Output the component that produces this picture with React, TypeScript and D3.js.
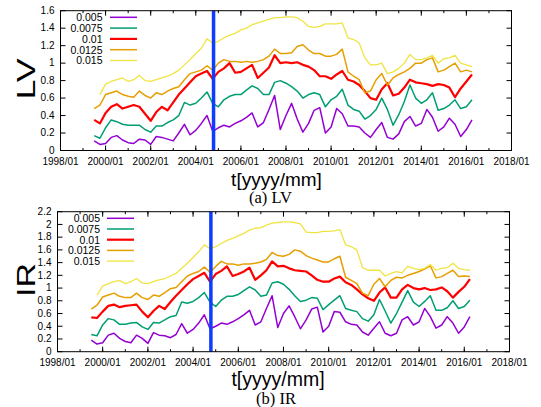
import * as d3 from "d3";
import React from "react";

// quarterly sampling grid
const parseMonth = d3.timeParse("%Y/%m");
const dates = d3.timeMonth.every(3)!.range(parseMonth("1999/07")!, parseMonth("2016/05")!);
const eventDate = d3.timeParse("%Y/%m/%d")("2004/10/15")!;

const seriesNames = ["0.005", "0.0075", "0.01", "0.0125", "0.015"];
const seriesColors = ["#9400d3", "#009e73", "#ff0000", "#e69f00", "#f0e442"];
const seriesWidths = [1.5, 1.5, 2.2, 1.5, 1.3];

const xTickYears = ["1998/01", "2000/01", "2002/01", "2004/01", "2006/01", "2008/01", "2010/01", "2012/01", "2014/01", "2016/01", "2018/01"];
const lvTicks = [0, 0.2, 0.4, 0.6, 0.8, 1, 1.2, 1.4, 1.6];
const irTicks = [0, 0.2, 0.4, 0.6, 0.8, 1, 1.2, 1.4, 1.6, 1.8, 2, 2.2];

// (a) LV
const lv005 = [0.11, 0.07, 0.08, 0.15, 0.17, 0.12, 0.09, 0.08, 0.13, 0.12, 0.07, 0.16, 0.15, 0.13, 0.11, 0.2, 0.3, 0.18, 0.23, 0.31, 0.4, 0.22, 0.26, 0.29, 0.27, 0.31, 0.34, 0.38, 0.43, 0.27, 0.32, 0.47, 0.63, 0.24, 0.4, 0.54, 0.36, 0.21, 0.31, 0.46, 0.49, 0.2, 0.27, 0.48, 0.42, 0.28, 0.28, 0.27, 0.2, 0.15, 0.24, 0.32, 0.15, 0.13, 0.19, 0.33, 0.39, 0.28, 0.31, 0.47, 0.38, 0.22, 0.27, 0.37, 0.3, 0.16, 0.24, 0.35];
const lv0075 = [0.17, 0.14, 0.26, 0.35, 0.33, 0.3, 0.29, 0.29, 0.29, 0.24, 0.21, 0.28, 0.28, 0.32, 0.35, 0.4, 0.55, 0.52, 0.54, 0.6, 0.67, 0.54, 0.5, 0.58, 0.62, 0.64, 0.64, 0.69, 0.74, 0.71, 0.64, 0.64, 0.78, 0.8, 0.77, 0.73, 0.68, 0.6, 0.64, 0.66, 0.64, 0.5, 0.58, 0.62, 0.7, 0.52, 0.47, 0.45, 0.36, 0.4, 0.47, 0.6, 0.47, 0.29, 0.41, 0.56, 0.75, 0.6, 0.54, 0.58, 0.66, 0.46, 0.48, 0.52, 0.58, 0.48, 0.5, 0.58];
const lv01 = [0.35, 0.31, 0.43, 0.5, 0.53, 0.48, 0.5, 0.52, 0.5, 0.42, 0.34, 0.44, 0.5, 0.46, 0.55, 0.64, 0.71, 0.78, 0.85, 0.88, 0.91, 0.82, 0.9, 0.94, 1.0, 0.89, 0.9, 0.94, 0.98, 0.83, 0.89, 0.95, 1.09, 1.0, 1.01, 1.0, 1.01, 0.98, 0.96, 0.92, 0.85, 0.85, 0.82, 0.87, 0.91, 0.81, 0.79, 0.75, 0.68, 0.6, 0.58, 0.7, 0.77, 0.63, 0.65, 0.72, 0.81, 0.78, 0.77, 0.76, 0.74, 0.76, 0.75, 0.72, 0.61, 0.71, 0.79, 0.87];
const lv0125 = [0.48, 0.52, 0.64, 0.66, 0.68, 0.64, 0.62, 0.61, 0.68, 0.63, 0.6, 0.66, 0.64, 0.68, 0.71, 0.73, 0.81, 0.88, 0.9, 0.92, 0.97, 0.92, 1.0, 1.04, 1.02, 1.02, 1.01, 1.02, 1.01, 1.02, 1.04, 1.08, 1.16, 1.11, 1.11, 1.12, 1.19, 1.21, 1.15, 1.11, 1.11, 1.08, 1.08, 1.1, 1.16, 0.9, 0.85, 0.81, 0.66, 0.68, 0.81, 0.88, 0.75, 0.83, 0.87, 0.9, 0.94, 1.0, 1.0, 1.04, 1.06, 0.9, 0.92, 0.96, 1.0, 0.9, 0.92, 0.9];
const lv015 = [null, 0.64, 0.76, 0.79, 0.81, 0.83, 0.79, 0.81, 0.86, 0.8, 0.79, 0.81, 0.83, 0.85, 0.88, 0.92, 0.98, 1.04, 1.11, 1.17, 1.28, 1.23, 1.25, 1.29, 1.32, 1.34, 1.38, 1.4, 1.44, 1.46, 1.48, 1.5, 1.52, 1.52, 1.53, 1.53, 1.52, 1.48, 1.42, 1.41, 1.42, 1.45, 1.45, 1.45, 1.46, 1.29, 1.27, 1.23, 1.06, 0.98, 0.98, 1.0, 0.88, 0.9, 0.94, 1.0, 1.1, 1.04, 1.04, 1.06, 1.09, 1.0, 1.05, 1.06, 1.09, 1.0, 0.98, 0.96];

// (b) IR
const ir005 = [0.18, 0.12, 0.14, 0.26, 0.29, 0.21, 0.16, 0.14, 0.26, 0.21, 0.13, 0.3, 0.26, 0.25, 0.22, 0.27, 0.44, 0.29, 0.35, 0.45, 0.58, 0.36, 0.4, 0.45, 0.43, 0.47, 0.52, 0.58, 0.65, 0.42, 0.47, 0.68, 0.88, 0.38, 0.6, 0.72, 0.55, 0.36, 0.5, 0.67, 0.7, 0.31, 0.4, 0.63, 0.62, 0.47, 0.43, 0.42, 0.31, 0.26, 0.37, 0.47, 0.29, 0.25, 0.29, 0.5, 0.55, 0.42, 0.47, 0.68, 0.55, 0.37, 0.42, 0.55, 0.45, 0.29, 0.39, 0.55];
const ir0075 = [0.27, 0.25, 0.42, 0.52, 0.5, 0.43, 0.43, 0.45, 0.46, 0.39, 0.35, 0.46, 0.45, 0.5, 0.55, 0.57, 0.78, 0.76, 0.79, 0.85, 0.93, 0.78, 0.71, 0.81, 0.87, 0.87, 0.9, 0.96, 1.02, 0.97, 0.87, 0.89, 1.08, 1.1, 1.06, 0.98, 0.88, 0.79, 0.81, 0.85, 0.84, 0.66, 0.74, 0.81, 0.88, 0.68, 0.65, 0.63, 0.52, 0.48, 0.58, 0.82, 0.64, 0.45, 0.6, 0.78, 0.96, 0.78, 0.71, 0.79, 0.88, 0.65, 0.65, 0.69, 0.8, 0.68, 0.71, 0.81];
const ir01 = [0.54, 0.53, 0.63, 0.72, 0.74, 0.7, 0.72, 0.73, 0.74, 0.63, 0.54, 0.64, 0.72, 0.67, 0.78, 0.88, 0.97, 1.06, 1.14, 1.19, 1.24, 1.1, 1.22, 1.27, 1.34, 1.19, 1.22, 1.26, 1.32, 1.13, 1.2, 1.28, 1.42, 1.34, 1.35, 1.31, 1.28, 1.27, 1.26, 1.2, 1.13, 1.1, 1.1, 1.15, 1.18, 1.09, 1.05, 0.98, 0.9, 0.84, 0.8, 0.93, 1.01, 0.85, 0.85, 0.98, 1.05, 1.0, 0.98, 1.0, 0.97, 0.98, 1.01, 0.95, 0.85, 0.94, 1.02, 1.14];
const ir0125 = [0.67, 0.73, 0.86, 0.89, 0.92, 0.87, 0.85, 0.85, 0.92, 0.85, 0.82, 0.89, 0.87, 0.93, 0.99, 1.01, 1.1, 1.19, 1.23, 1.26, 1.33, 1.25, 1.34, 1.42, 1.38, 1.38, 1.36, 1.38, 1.38, 1.39, 1.41, 1.45, 1.56, 1.51, 1.5, 1.53, 1.6, 1.58, 1.51, 1.47, 1.44, 1.41, 1.41, 1.46, 1.5, 1.17, 1.12, 1.07, 0.92, 0.88, 1.06, 1.15, 1.02, 1.12, 1.17, 1.16, 1.2, 1.23, 1.26, 1.3, 1.35, 1.16, 1.18, 1.23, 1.28, 1.18, 1.19, 1.18];
const ir015 = [null, 0.89, 1.03, 1.07, 1.1, 1.12, 1.07, 1.1, 1.15, 1.08, 1.07, 1.1, 1.13, 1.15, 1.19, 1.23, 1.31, 1.39, 1.48, 1.57, 1.68, 1.62, 1.65, 1.7, 1.75, 1.78, 1.82, 1.86, 1.91, 1.94, 1.95, 1.99, 2.02, 2.03, 2.04, 2.04, 2.03, 2.01, 1.88, 1.87, 1.87, 1.89, 1.89, 1.9, 1.92, 1.68, 1.65, 1.6, 1.32, 1.28, 1.28, 1.28, 1.19, 1.23, 1.26, 1.24, 1.34, 1.31, 1.29, 1.31, 1.37, 1.28, 1.31, 1.32, 1.39, 1.31, 1.29, 1.28];

const sans = "'Liberation Sans', Arial, Helvetica, sans-serif";
const serif = "'Liberation Serif', 'Times New Roman', serif";

type PanelProps = {
  series: (number | null)[][];
  yTicks: number[];
  yMax: number;
  frame: { left: number; right: number; top: number; bottom: number };
  ylabel: string;
  ylabelY: number;
  ylabelLen: number;
  xlabelX: number;
  xlabelY: number;
  xlabelSize: number;
  caption: string;
  captionX: number;
  captionY: number;
  legend: { textRight: number; x0: number; x1: number; y0: number; dy: number };
};

function Panel(p: PanelProps) {
  const { left, right, top, bottom } = p.frame;
  const parseTick = d3.timeParse("%Y/%m");
  const x = d3
    .scaleTime()
    .domain([parseTick("1998/01")!, parseTick("2018/01")!])
    .range([left, right]);
  const y = d3.scaleLinear().domain([0, p.yMax]).range([bottom, top]);
  const minorTicks = x.ticks(d3.timeYear.every(1)!);

  const line = d3
    .line<number | null>()
    .defined((v) => v != null)
    .x((_, i) => x(dates[i]))
    .y((v) => y(v as number));

  return (
    <g>
      {p.series.map((s, k) => (
        <path
          key={k}
          d={line(s) || ""}
          fill="none"
          stroke={seriesColors[k]}
          strokeWidth={seriesWidths[k]}
          strokeLinejoin="round"
        />
      ))}
      <line
        x1={x(eventDate)}
        x2={x(eventDate)}
        y1={top}
        y2={bottom}
        stroke="#0f3dff"
        strokeWidth={3.5}
      />
      <rect x={left} y={top} width={right - left} height={bottom - top} fill="none" stroke="#000" strokeWidth={1} />

      {/* y ticks */}
      {p.yTicks.map((t) => (
        <g key={t}>
          <line x1={left} x2={left + 5} y1={y(t)} y2={y(t)} stroke="#000" />
          <line x1={right} x2={right - 5} y1={y(t)} y2={y(t)} stroke="#000" />
          <text x={left - 6} y={y(t) + 3.3} textAnchor="end" fontSize={10} fontFamily={sans}>
            {d3.format("~g")(t)}
          </text>
        </g>
      ))}
      {/* x ticks */}
      {minorTicks.map((d, i) => (
        <g key={"m" + i}>
          <line x1={x(d)} x2={x(d)} y1={bottom} y2={bottom - 2.5} stroke="#000" />
          <line x1={x(d)} x2={x(d)} y1={top} y2={top + 2.5} stroke="#000" />
        </g>
      ))}
      {xTickYears.map((s) => {
        const d = parseTick(s)!;
        return (
          <g key={s}>
            <line x1={x(d)} x2={x(d)} y1={bottom} y2={bottom - 5} stroke="#000" />
            <line x1={x(d)} x2={x(d)} y1={top} y2={top + 5} stroke="#000" />
            <text x={x(d)} y={bottom + 14.5} textAnchor="middle" fontSize={10} fontFamily={sans}>
              {s}
            </text>
          </g>
        );
      })}

      {/* legend */}
      {seriesNames.map((n, k) => {
        const ly = p.legend.y0 + k * p.legend.dy;
        return (
          <g key={n}>
            <text x={p.legend.textRight} y={ly + 3.8} textAnchor="end" fontSize={10.5} fontFamily={sans}>
              {n}
            </text>
            <line
              x1={p.legend.x0}
              x2={p.legend.x1}
              y1={ly}
              y2={ly}
              stroke={seriesColors[k]}
              strokeWidth={seriesWidths[k]}
            />
          </g>
        );
      })}

      <text
        transform={`translate(35,${p.ylabelY}) rotate(-90)`}
        textAnchor="middle"
        fontSize={25}
        fontFamily={sans}
        textLength={p.ylabelLen}
        lengthAdjust="spacingAndGlyphs"
      >
        {p.ylabel}
      </text>
      <text x={p.xlabelX} y={p.xlabelY} textAnchor="middle" fontSize={p.xlabelSize} fontFamily={sans}>
        t[yyyy/mm]
      </text>
      <text x={p.captionX} y={p.captionY} textAnchor="middle" fontSize={16.5} fontFamily={serif}>
        {p.caption}
      </text>
    </g>
  );
}

export default function App() {
  return (
    <div style={{ position: "absolute", left: 0, top: 0 }}>
      <svg width={541} height={407} style={{ display: "block", background: "#fff" }}>
        <Panel
          series={[lv005, lv0075, lv01, lv0125, lv015]}
          yTicks={lvTicks}
          yMax={1.6}
          frame={{ left: 60.5, right: 511.5, top: 10.7, bottom: 150.5 }}
          ylabel="LV"
          ylabelY={79}
          ylabelLen={41}
          xlabelX={276.5}
          xlabelY={185.5}
          xlabelSize={19}
          caption="(a) LV"
          captionX={270.5}
          captionY={203}
          legend={{ textRight: 102.5, x0: 110, x1: 137, y0: 17.3, dy: 10.8 }}
        />
        <Panel
          series={[ir005, ir0075, ir01, ir0125, ir015]}
          yTicks={irTicks}
          yMax={2.2}
          frame={{ left: 57.5, right: 509.5, top: 211.7, bottom: 351.7 }}
          ylabel="IR"
          ylabelY={280}
          ylabelLen={34}
          xlabelX={278}
          xlabelY={386.2}
          xlabelSize={19.5}
          caption="(b) IR"
          captionX={276}
          captionY={403.5}
          legend={{ textRight: 100, x0: 107, x1: 134, y0: 218.3, dy: 10.7 }}
        />
      </svg>
    </div>
  );
}
